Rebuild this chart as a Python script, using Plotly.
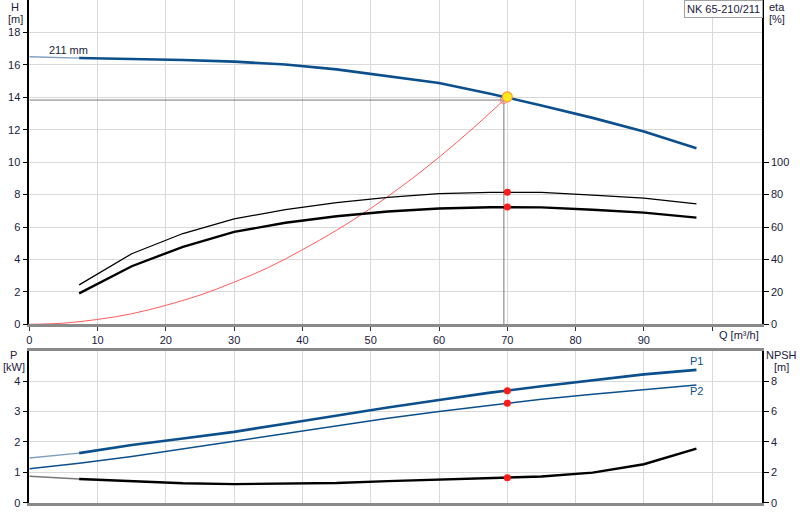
import plotly.graph_objects as go

# pump curve, NK 65-210/211
q = [7.3, 15, 22.5, 30, 37.5, 45, 52.5, 60, 67.5, 75, 82.5, 90, 97.7]
q_ext = [0, 7.3]

h = [16.42, 16.37, 16.3, 16.2, 16.02, 15.72, 15.3, 14.88, 14.22, 13.5, 12.73, 11.89, 10.86]
h_ext = [16.5, 16.42]

eta_pump = [24.3, 43.5, 56.0, 65.0, 70.7, 75.0, 78.3, 80.6, 81.4, 81.4, 79.7, 77.8, 74.3]
eta_total = [19.1, 35.8, 47.8, 57.0, 62.6, 66.6, 69.6, 71.4, 72.2, 72.1, 70.6, 68.9, 65.8]

p1 = [1.63, 1.9, 2.11, 2.33, 2.6, 2.87, 3.13, 3.38, 3.62, 3.83, 4.03, 4.22, 4.37]
p1_ext = [1.47, 1.63]
p2 = [1.3, 1.52, 1.77, 2.02, 2.27, 2.52, 2.78, 3.0, 3.2, 3.4, 3.57, 3.73, 3.87]
p2_ext = [1.12, 1.3]
npsh = [1.56, 1.4, 1.28, 1.22, 1.24, 1.3, 1.42, 1.52, 1.63, 1.72, 1.98, 2.53, 3.56]
npsh_ext = [1.74, 1.56]

# system curve
q_sys = [0, 5, 10, 15, 20, 25, 30, 35, 40, 45, 50, 55, 60, 65, 69.5]
h_sys = [0, 0.07, 0.3, 0.65, 1.17, 1.8, 2.6, 3.5, 4.6, 5.8, 7.15, 8.65, 10.3, 12.1, 13.83]

# duty point
q_duty = 70
h_duty = 14.03
eta_duty = [81.5, 72.3]
p_duty = [3.68, 3.27]
npsh_duty = 1.64

BLUE = "#0b4f8c"
FONT = "Liberation Sans, Arial, sans-serif"
TXT = "#20203a"

fig = go.Figure()

# --- top: head / efficiency ---
fig.add_trace(go.Scatter(x=[0, q_sys[-1], q_sys[-1]], y=[h_sys[-1], h_sys[-1], 0],
                         mode="lines", line=dict(color="#777", width=1)))
fig.add_trace(go.Scatter(x=q_sys, y=h_sys, mode="lines", line_shape="spline",
                         line=dict(color="#ff5a5a", width=1)))
fig.add_trace(go.Scatter(x=[q_sys[-1]], y=[h_sys[-1]], mode="markers",
                         marker=dict(size=7, color="rgba(0,0,0,0)",
                                     line=dict(color="#ff7070", width=1))))
fig.add_trace(go.Scatter(x=q_ext, y=h_ext, mode="lines", line=dict(color="#7f9fc0", width=1.3)))
fig.add_trace(go.Scatter(x=q, y=h, mode="lines", line=dict(color=BLUE, width=2.6)))
fig.add_trace(go.Scatter(x=q, y=eta_pump, yaxis="y2", mode="lines",
                         line=dict(color="black", width=1.3)))
fig.add_trace(go.Scatter(x=q, y=eta_total, yaxis="y2", mode="lines",
                         line=dict(color="black", width=2.4)))
fig.add_trace(go.Scatter(x=[q_duty, q_duty], y=eta_duty, yaxis="y2", mode="markers",
                         marker=dict(size=7, color="#ff1a1a")))
fig.add_trace(go.Scatter(x=[q_duty], y=[h_duty], mode="markers",
                         marker=dict(size=10, color="#ffe81a", line=dict(color="#f5a040", width=1.2))))

# --- bottom: power / NPSH ---
fig.add_trace(go.Scatter(x=q_ext, y=p1_ext, xaxis="x2", yaxis="y3", mode="lines",
                         line=dict(color="#7f9fc0", width=1.3)))
fig.add_trace(go.Scatter(x=q, y=p1, xaxis="x2", yaxis="y3", mode="lines",
                         line=dict(color=BLUE, width=2.6)))
fig.add_trace(go.Scatter(x=q_ext + q[1:], y=p2_ext + p2[1:], xaxis="x2", yaxis="y3", mode="lines",
                         line=dict(color=BLUE, width=1.5)))
fig.add_trace(go.Scatter(x=q_ext, y=npsh_ext, xaxis="x2", yaxis="y4", mode="lines",
                         line=dict(color="#777", width=1.3)))
fig.add_trace(go.Scatter(x=q, y=npsh, xaxis="x2", yaxis="y4", mode="lines",
                         line=dict(color="black", width=2.4)))
fig.add_trace(go.Scatter(x=[q_duty, q_duty], y=p_duty, xaxis="x2", yaxis="y3", mode="markers",
                         marker=dict(size=7, color="#ff1a1a")))
fig.add_trace(go.Scatter(x=[q_duty], y=[npsh_duty], xaxis="x2", yaxis="y4", mode="markers",
                         marker=dict(size=7, color="#ff1a1a")))

xdom = [29.3 / 800, 762 / 800]
grid = "#d9d9d9"
xticks = list(range(0, 101, 10))
common_x = dict(domain=xdom, range=[0, 107.3], tickvals=xticks, showgrid=True, gridcolor=grid,
                gridwidth=1.2, zeroline=False, showline=True, linecolor="#8a8a8a", linewidth=2.5,
                ticks="outside", ticklen=4, tickcolor="#333", automargin=False)
common_y = dict(showgrid=True, gridcolor=grid, gridwidth=1.2, zeroline=False, showline=True,
                linecolor="black", linewidth=1.5, ticks="outside", ticklen=5, tickcolor="black",
                automargin=False)

fig.update_layout(
    width=800, height=520, margin=dict(l=0, r=0, t=0, b=0, autoexpand=False),
    paper_bgcolor="white", plot_bgcolor="white", showlegend=False,
    font=dict(family=FONT, size=11, color=TXT),
    xaxis=dict(common_x, anchor="y",
               ticktext=[str(v) for v in xticks[:-1]] + [""]),
    yaxis=dict(common_y, domain=[1 - 324.3 / 520, 1], range=[0, 20],
               tickvals=list(range(0, 19, 2))),
    yaxis2=dict(common_y, overlaying="y", side="right", anchor="x", range=[0, 200],
                tickvals=list(range(0, 101, 20)), showgrid=False),
    xaxis2=dict(common_x, anchor="y3", showticklabels=False, mirror=True, ticks=""),
    yaxis3=dict(common_y, domain=[1 - 502.7 / 520, 1 - 350.7 / 520], range=[0, 5],
                tickvals=list(range(0, 5)), anchor="x2"),
    yaxis4=dict(common_y, overlaying="y3", side="right", anchor="x2", range=[0, 10],
                tickvals=list(range(0, 9, 2)), showgrid=False),
)

def label(text, x, y, xanchor="center", color=TXT, **kw):
    fig.add_annotation(text=text, x=x / 800, y=1 - y / 520, xref="paper", yref="paper",
                       xanchor=xanchor, yanchor="middle", showarrow=False,
                       font=dict(family=FONT, size=11, color=color), **kw)

label("H", 15, 7)
label("[m]", 15, 19)
label("eta", 767, 7, xanchor="left")
label("[%]", 767, 19, xanchor="left")
label("Q [m³/h]", 739, 335)
label("211 mm", 47, 50, xanchor="left")
label("P", 13, 355)
label("[kW]", 14, 367)
label("NPSH", 781, 355)
label("[m]", 781, 367)
label("P1", 696, 361, color=BLUE)
label("P2", 696, 391, color=BLUE)
label("NK 65-210/211", 723, 9, color=TXT, bgcolor="white", bordercolor="#a0a0a0",
      borderwidth=1, borderpad=2)

# page body has a default 8px margin; drop it so the figure sits at the window corner
fig.write_html("out.html", config={"displayModeBar": False},
               post_script="document.body.style.margin='0';")
